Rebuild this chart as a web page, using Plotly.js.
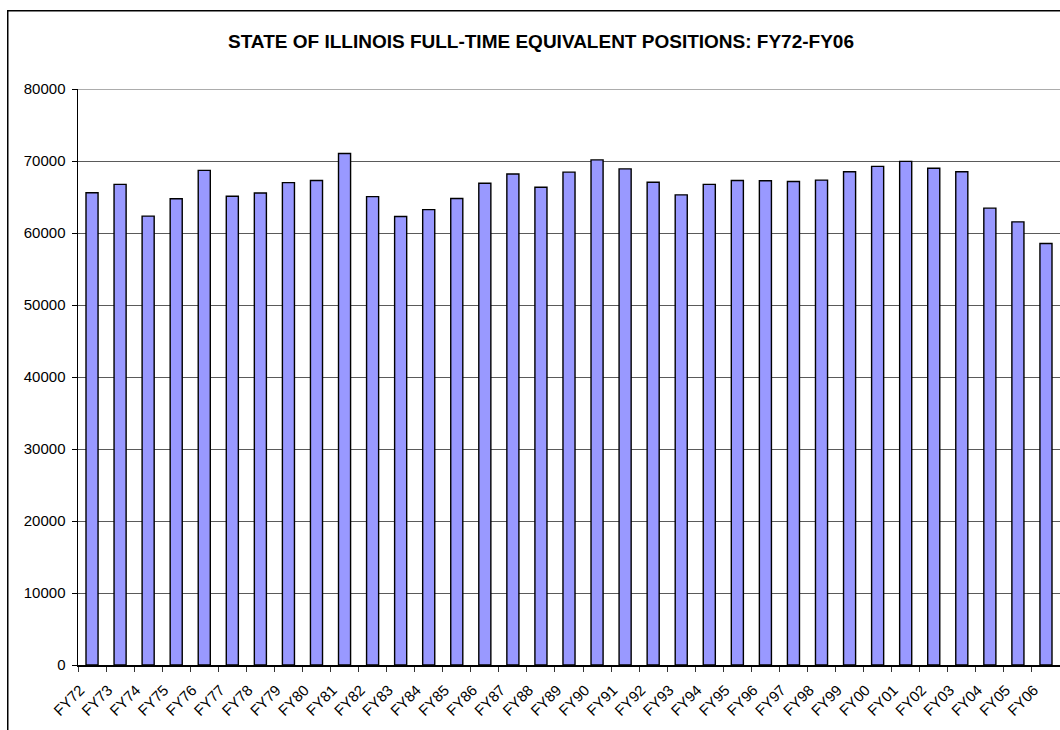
<!DOCTYPE html>
<html>
<head>
<meta charset="utf-8">
<script src="https://cdn.plot.ly/plotly-3.0.1.min.js"></script>
<style>
  html, body { margin: 0; padding: 0; background: #fff; overflow: hidden; width: 1060px; height: 730px; }
  #chart { position: absolute; left: 0; top: 0; width: 1060px; height: 730px; }
</style>
</head>
<body>
<div id="chart"></div>
<script>
const chartTitle = "STATE OF ILLINOIS FULL-TIME EQUIVALENT POSITIONS: FY72-FY06";
const fiscalYears = ["FY72","FY73","FY74","FY75","FY76","FY77","FY78","FY79","FY80","FY81",
  "FY82","FY83","FY84","FY85","FY86","FY87","FY88","FY89","FY90","FY91",
  "FY92","FY93","FY94","FY95","FY96","FY97","FY98","FY99","FY00","FY01",
  "FY02","FY03","FY04","FY05","FY06"];
const ftePositions = [65600, 66750, 62350, 64750, 68700, 65100, 65550, 67000, 67300, 71050,
  65050, 62300, 63250, 64800, 66900, 68200, 66350, 68450, 70150, 68900,
  67050, 65300, 66750, 67300, 67250, 67150, 67350, 68500, 69250, 69950,
  69000, 68500, 63450, 61550, 58550];
const yTickValues = [0, 10000, 20000, 30000, 40000, 50000, 60000, 70000, 80000];
const yMax = 80000;

const W = 1060, H = 730;
const M = { l: 78, r: 0, t: 89, b: 64.5 };
const plotW = W - M.l - M.r, plotH = H - M.t - M.b;
// outer chart frame (left and top edges; right/bottom lie outside the picture)
const fx = (7.75 - M.l) / plotW, fy = (H - M.b - 10.75) / plotH;
const fBottom = (H - M.b - 740) / plotH, fRight = (1070 - M.l) / plotW;

const trace = {
  type: "bar",
  x: fiscalYears,
  y: ftePositions,
  marker: { color: "#9999FF", line: { color: "#000000", width: 1.4 } },
  hoverinfo: "x+y"
};

const layout = {
  width: W,
  height: H,
  margin: { l: M.l, r: M.r, t: M.t, b: M.b, pad: 0 },
  paper_bgcolor: "#ffffff",
  plot_bgcolor: "#ffffff",
  bargap: 0.57,
  showlegend: false,
  font: { family: "Liberation Sans, Arial, sans-serif", color: "#000", size: 15 },
  title: {
    text: "<b>" + chartTitle + "</b>",
    font: { family: "Liberation Sans, Arial, sans-serif", size: 19, color: "#000" },
    xref: "container", x: 541 / W, xanchor: "center",
    yref: "container", y: 1 - 41.5 / H, yanchor: "middle"
  },
  xaxis: {
    type: "category",
    tickangle: -45,
    tickson: "boundaries",
    ticks: "outside", ticklen: 5, tickcolor: "#333", tickwidth: 1,
    ticklabelshift: -12,
    ticklabelstandoff: 9,
    showline: true, linecolor: "#000", linewidth: 1.5,
    showgrid: false,
    tickfont: { size: 15 }
  },
  yaxis: {
    range: [0, yMax],
    tickmode: "array",
    tickvals: yTickValues,
    ticktext: yTickValues.map(String),
    ticks: "outside", ticklen: 5, tickcolor: "#000", tickwidth: 1,
    ticklabelstandoff: 3,
    showline: true, linecolor: "#000", linewidth: 1.5,
    showgrid: true, gridcolor: "#5a5a5a", gridwidth: 1,
    zeroline: false,
    tickfont: { size: 15 }
  },
  shapes: [
    {
      type: "line", xref: "paper", yref: "y",
      x0: 0, x1: 1, y0: yMax, y1: yMax,
      line: { color: "#5a5a5a", width: 1 }
    },
    {
      type: "path", xref: "paper", yref: "paper",
      path: "M " + fx + " " + fBottom + " L " + fx + " " + fy + " L " + fRight + " " + fy,
      line: { color: "#000000", width: 1.5 }
    }
  ]
};

Plotly.newPlot("chart", [trace], layout, { displayModeBar: false, staticPlot: true });
</script>
</body>
</html>
